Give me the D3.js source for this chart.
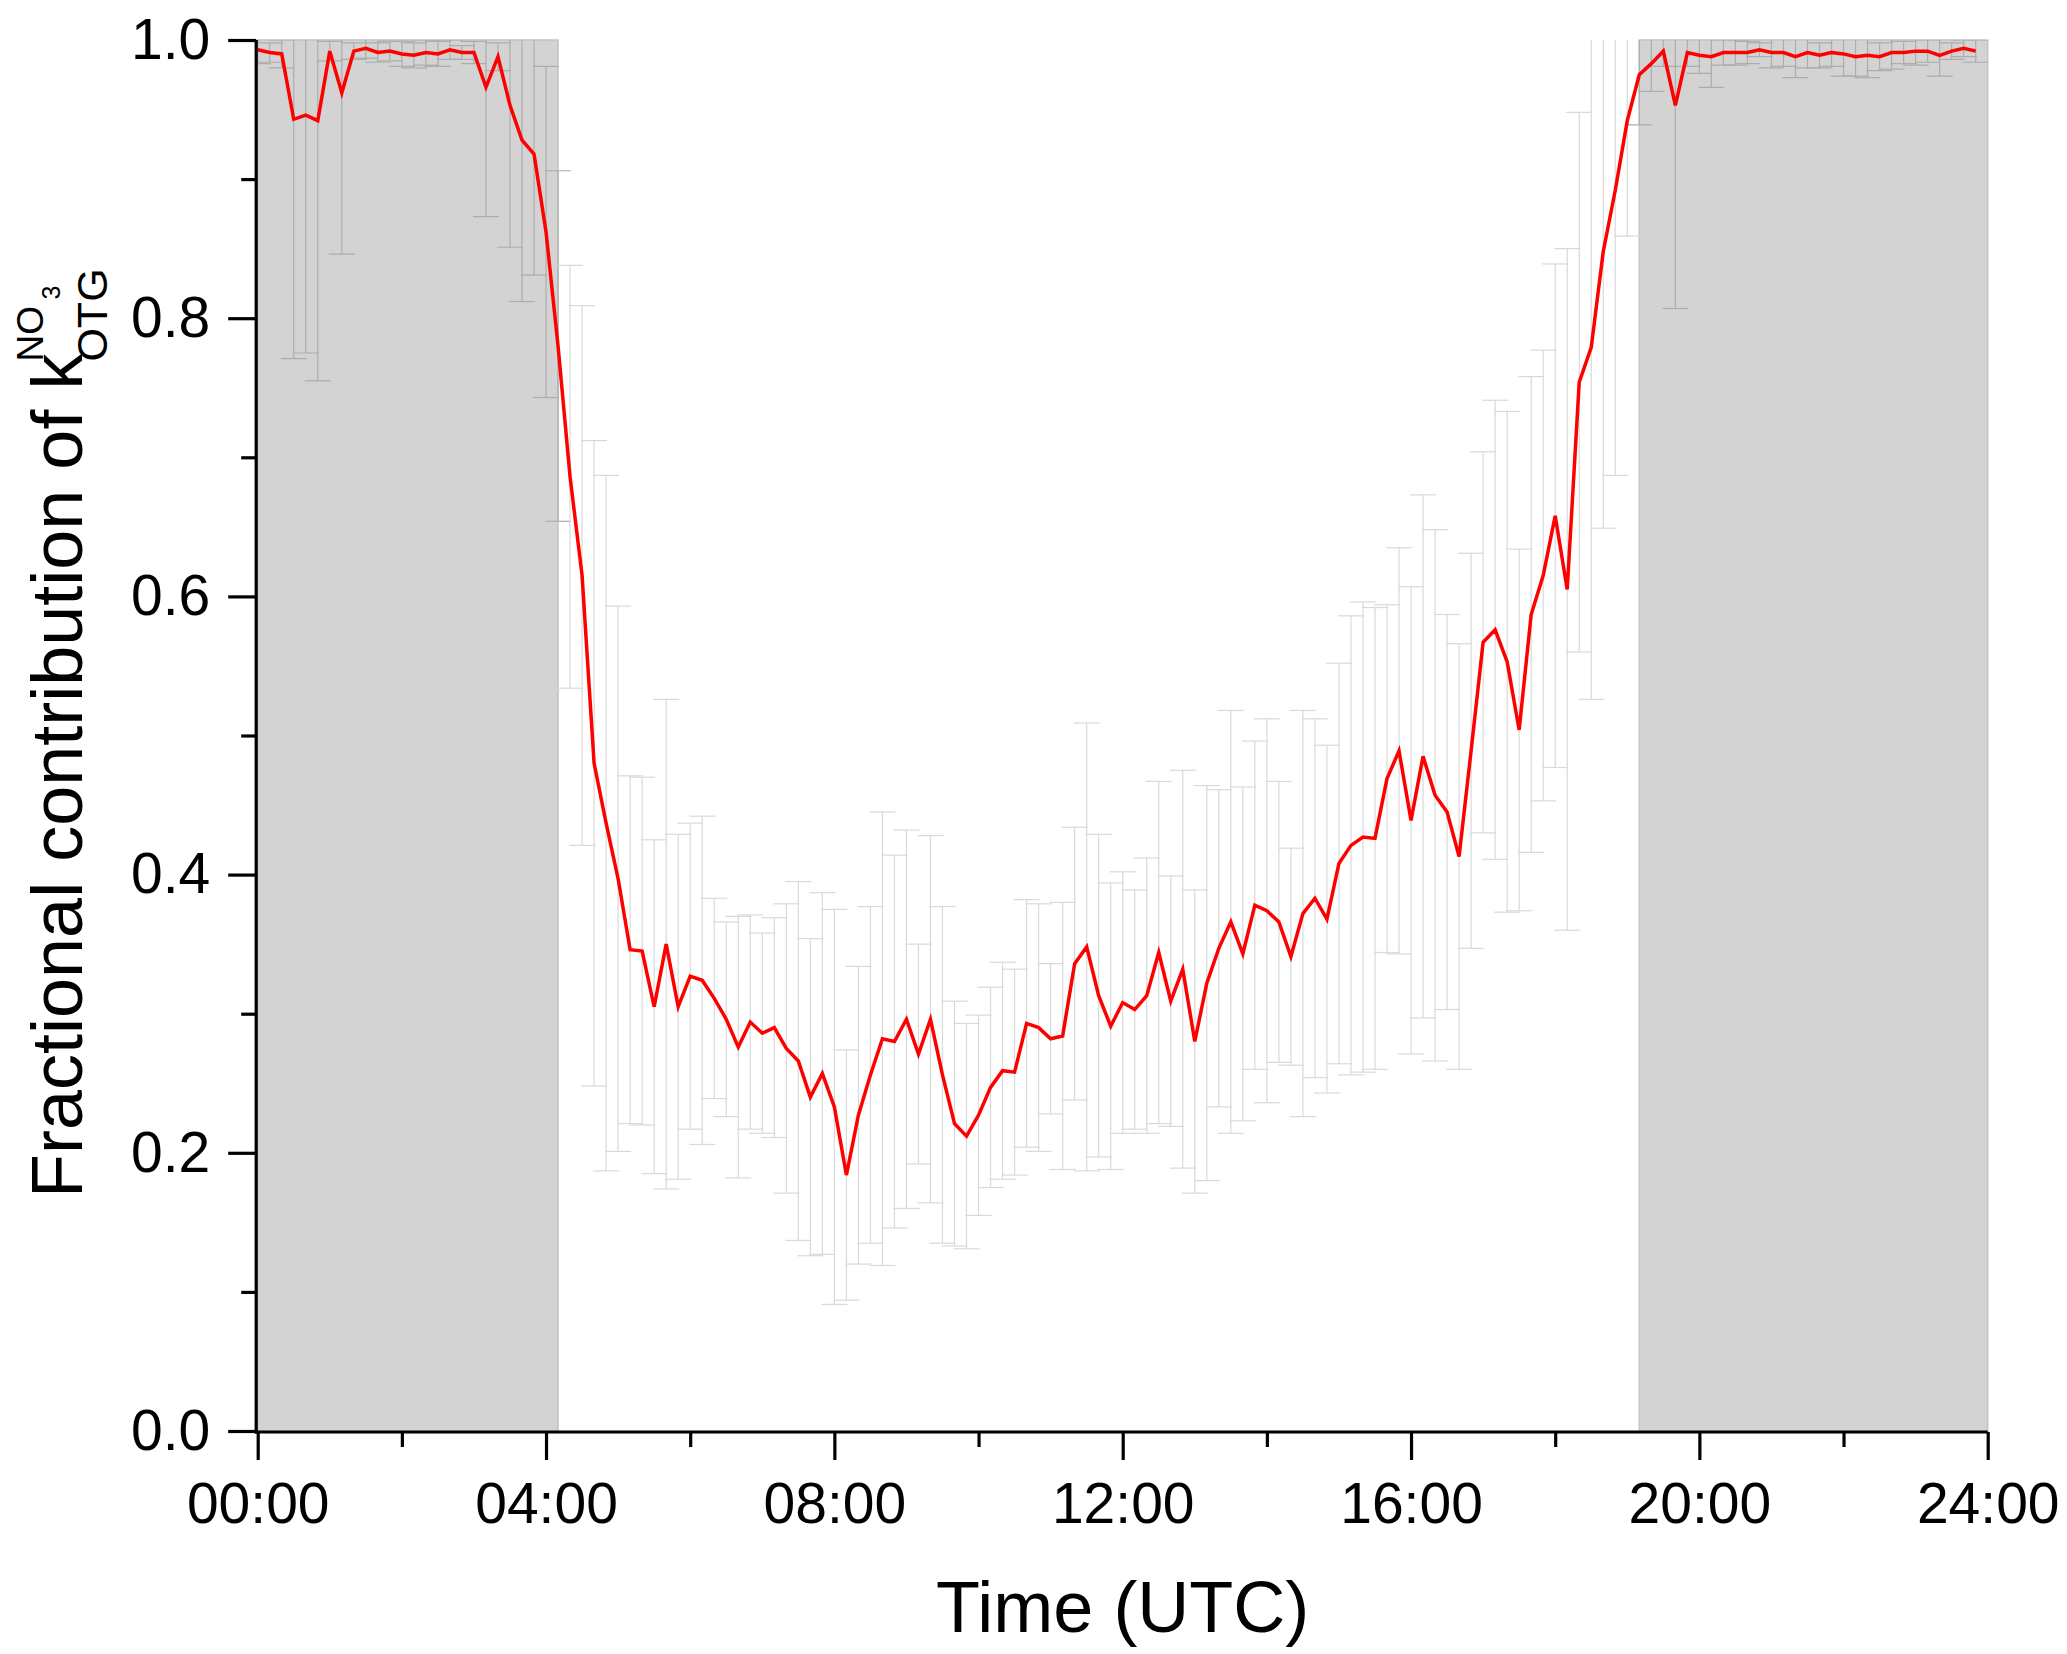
<!DOCTYPE html>
<html>
<head>
<meta charset="utf-8">
<script src="https://cdn.jsdelivr.net/npm/d3@7"></script>
<style>
  html, body { margin: 0; padding: 0; background: #fff; }
  svg { display: block; }
  text { font-family: "Liberation Sans", Arial, sans-serif; fill: #000; }
</style>
</head>
<body>
<svg id="chart" width="2067" height="1654"></svg>
<script>
// ---------------- data ----------------
const times = [
"00:00","00:10","00:20","00:30","00:40","00:50","01:00","01:10","01:20","01:30","01:40","01:50",
"02:00","02:10","02:20","02:30","02:40","02:50","03:00","03:10","03:20","03:30","03:40","03:50",
"04:00","04:10","04:20","04:30","04:40","04:50","05:00","05:10","05:20","05:30","05:40","05:50",
"06:00","06:10","06:20","06:30","06:40","06:50","07:00","07:10","07:20","07:30","07:40","07:50",
"08:00","08:10","08:20","08:30","08:40","08:50","09:00","09:10","09:20","09:30","09:40","09:50",
"10:00","10:10","10:20","10:30","10:40","10:50","11:00","11:10","11:20","11:30","11:40","11:50",
"12:00","12:10","12:20","12:30","12:40","12:50","13:00","13:10","13:20","13:30","13:40","13:50",
"14:00","14:10","14:20","14:30","14:40","14:50","15:00","15:10","15:20","15:30","15:40","15:50",
"16:00","16:10","16:20","16:30","16:40","16:50","17:00","17:10","17:20","17:30","17:40","17:50",
"18:00","18:10","18:20","18:30","18:40","18:50","19:00","19:10","19:20","19:30","19:40","19:50",
"20:00","20:10","20:20","20:30","20:40","20:50","21:00","21:10","21:20","21:30","21:40","21:50",
"22:00","22:10","22:20","22:30","22:40","22:50","23:00","23:10","23:20","23:30","23:40","23:50"];

const meanValues = [
0.993,0.991,0.990,0.943,0.946,0.942,0.992,0.962,0.992,0.994,0.991,0.992,
0.990,0.989,0.991,0.990,0.993,0.991,0.991,0.966,0.988,0.953,0.928,0.918,
0.862,0.780,0.686,0.615,0.480,0.437,0.397,0.346,0.345,0.305,0.350,0.305,
0.327,0.324,0.311,0.296,0.276,0.294,0.286,0.290,0.275,0.266,0.240,0.257,
0.233,0.184,0.227,0.256,0.282,0.280,0.296,0.271,0.296,0.256,0.221,0.212,
0.227,0.247,0.259,0.258,0.293,0.290,0.282,0.284,0.336,0.348,0.313,0.291,
0.308,0.303,0.313,0.344,0.309,0.332,0.280,0.322,0.347,0.366,0.343,0.378,
0.374,0.366,0.341,0.372,0.383,0.368,0.408,0.421,0.427,0.426,0.469,0.489,
0.439,0.485,0.457,0.445,0.413,0.489,0.567,0.576,0.553,0.504,0.587,0.615,
0.658,0.605,0.754,0.779,0.848,0.892,0.942,0.975,0.983,0.992,0.953,0.991,
0.989,0.988,0.991,0.991,0.991,0.993,0.991,0.991,0.988,0.991,0.989,0.991,
0.990,0.988,0.989,0.988,0.991,0.991,0.992,0.992,0.989,0.992,0.994,0.992];

const sdValues = [
0.010,0.007,0.010,0.172,0.171,0.187,0.007,0.116,0.006,0.007,0.007,0.007,
0.009,0.009,0.009,0.009,0.007,0.005,0.008,0.093,0.010,0.102,0.116,0.087,
0.119,0.126,0.152,0.194,0.232,0.250,0.196,0.125,0.125,0.120,0.176,0.124,
0.110,0.118,0.072,0.070,0.094,0.077,0.072,0.079,0.104,0.129,0.114,0.130,
0.142,0.090,0.107,0.121,0.163,0.134,0.136,0.079,0.132,0.121,0.088,0.081,
0.072,0.072,0.078,0.074,0.089,0.089,0.054,0.096,0.098,0.161,0.116,0.103,
0.094,0.086,0.099,0.123,0.090,0.143,0.109,0.142,0.114,0.152,0.120,0.118,
0.138,0.101,0.078,0.146,0.129,0.125,0.144,0.165,0.169,0.166,0.125,0.146,
0.168,0.188,0.191,0.142,0.153,0.142,0.137,0.165,0.180,0.130,0.171,0.162,
0.181,0.245,0.194,0.253,0.199,0.205,0.083,0.036,0.020,0.011,0.146,0.010,
0.013,0.022,0.009,0.009,0.008,0.005,0.011,0.010,0.015,0.011,0.009,0.010,
0.016,0.014,0.016,0.010,0.012,0.008,0.010,0.008,0.015,0.006,0.006,0.008];

const nightStart = ["00:00", "19:10"];
const nightEnd   = ["04:10", "24:00"];

const xTickLabels = ["00:00","04:00","08:00","12:00","16:00","20:00","24:00"];
const xMinorTicks = ["02:00","06:00","10:00","14:00","18:00","22:00"];
const yTickValues = [0.0, 0.2, 0.4, 0.6, 0.8, 1.0];
const yMinorTicks = [0.1, 0.3, 0.5, 0.7, 0.9];

// ---------------- layout ----------------
const toHours = s => { const p = s.split(":"); return +p[0] + (+p[1]) / 60; };
const svg = d3.select("#chart");
const x = d3.scaleLinear().domain([0, 24]).range([257.7, 1987.7]);
const y = d3.scaleLinear().domain([0, 1]).range([1431, 40]);

const data = times.map((t, i) => ({ h: toHours(t), m: meanValues[i], sd: sdValues[i] }));
const nights = nightStart.map((s, i) => ({ a: toHours(s), b: toHours(nightEnd[i]) }));
const inNight = h => nights.some(n => h >= n.a && h <= n.b);

svg.append("defs").append("clipPath").attr("id", "plotclip")
  .append("rect").attr("x", x(0)).attr("y", y(1)).attr("width", x(24) - x(0)).attr("height", y(0) - y(1));

// shaded night periods
svg.append("g").selectAll("rect").data(nights).join("rect")
  .attr("x", d => x(d.a)).attr("y", y(1))
  .attr("width", d => x(d.b) - x(d.a)).attr("height", y(0) - y(1))
  .attr("fill", "#d3d3d3").attr("stroke", "#c4c4c4").attr("stroke-width", 1.5);

// error bars
const eb = svg.append("g").attr("clip-path", "url(#plotclip)");
const capW = 13;
data.forEach(d => {
  const col = inNight(d.h) ? "#adadad" : "#d9d9d9";
  const g = eb.append("g").attr("stroke", col).attr("stroke-width", 1.2).attr("fill", "none");
  const x0 = x(d.h), yt = y(d.m + d.sd), yb = y(d.m - d.sd);
  g.append("line").attr("x1", x0).attr("x2", x0).attr("y1", yt).attr("y2", yb);
  g.append("line").attr("x1", x0 - capW).attr("x2", x0 + capW).attr("y1", yt).attr("y2", yt);
  g.append("line").attr("x1", x0 - capW).attr("x2", x0 + capW).attr("y1", yb).attr("y2", yb);
});

// mean line
svg.append("path").datum(data)
  .attr("fill", "none").attr("stroke", "#ff0000").attr("stroke-width", 3.5)
  .attr("stroke-linejoin", "miter")
  .attr("d", d3.line().x(d => x(d.h)).y(d => y(d.m)));

// axes
const fmtY = d3.format(".1f");
const yAxis = svg.append("g").attr("transform", `translate(${x(0) - 1.5},0)`)
  .call(d3.axisLeft(y).tickValues(yTickValues).tickFormat(fmtY).tickSize(28).tickSizeOuter(0).tickPadding(18));
svg.append("g").attr("transform", `translate(${x(0) - 1.5},0)`)
  .call(d3.axisLeft(y).tickValues(yMinorTicks).tickFormat("").tickSize(15).tickSizeOuter(0))
  .select(".domain").remove();

const xAxis = svg.append("g").attr("transform", `translate(0,${y(0) + 1})`)
  .call(d3.axisBottom(x).tickValues(xTickLabels.map(toHours))
    .tickFormat((v, i) => xTickLabels[i]).tickSize(28).tickSizeOuter(0).tickPadding(23));
svg.append("g").attr("transform", `translate(0,${y(0) + 1})`)
  .call(d3.axisBottom(x).tickValues(xMinorTicks.map(toHours)).tickFormat("").tickSize(15).tickSizeOuter(0))
  .select(".domain").remove();

svg.selectAll(".domain, .tick line").attr("stroke", "#000").attr("stroke-width", 3.2);
svg.selectAll(".tick text").attr("font-size", 57).attr("font-family", "\"Liberation Sans\", Arial, sans-serif").attr("fill", "#000");
// extend axis lines slightly so they meet at the corner
yAxis.select(".domain").attr("d", `M0,${y(1)}V${y(0) + 2.6}`);
xAxis.select(".domain").attr("d", `M${x(0) - 3}, 0H${x(24)}`);

// axis titles
svg.append("text").attr("x", (x(0) + x(24)) / 2).attr("y", 1632)
  .attr("text-anchor", "middle").attr("font-size", 72).text("Time (UTC)");

const yt = svg.append("g").attr("transform", "translate(82,1198) rotate(-90)");
const mainT = yt.append("text").attr("x", 0).attr("y", 0).attr("font-size", 72)
  .text("Fractional contribution of k");
const L = mainT.node().getComputedTextLength();
yt.append("text").attr("x", L - 8).attr("y", 25).attr("font-size", 43).text("OTG");
yt.append("text").attr("x", L - 8).attr("y", -39).attr("font-size", 37).text("NO");
yt.append("text").attr("x", L - 8 + 62).attr("y", -22).attr("font-size", 25).text("3");
</script>
</body>
</html>
